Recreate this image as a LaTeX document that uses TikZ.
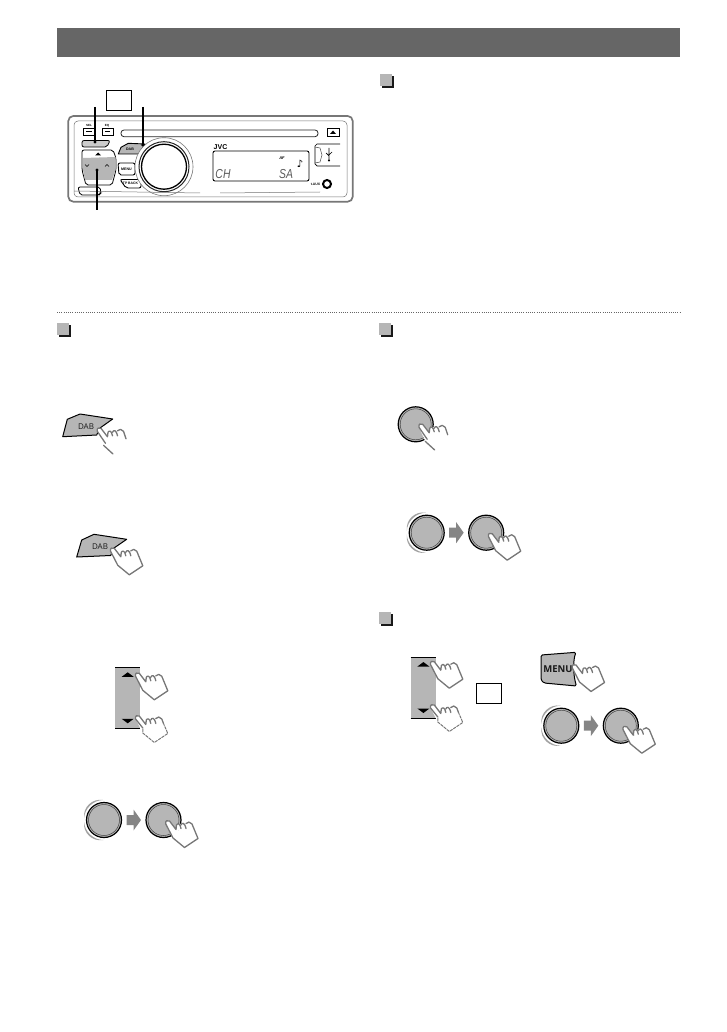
\documentclass[tikz,border=0pt]{standalone}
\usepackage{fontspec}
\setmainfont{Liberation Sans}
\newfontfamily\symfont{DejaVu Sans}
\newfontfamily\btnfont{Open Sans}
\definecolor{btn}{HTML}{B6B6B6}
\definecolor{band}{HTML}{666666}
\definecolor{hnd}{HTML}{777777}
\definecolor{arw}{HTML}{858585}
\tikzset{
 handline/.style={draw=hnd,line width=1.3pt,line join=round,line cap=round},
 framebox/.style={draw=black,line width=.8pt,fill=white,inner sep=0pt,minimum width=25pt,minimum height=20pt},
 leader/.style={line width=1.6pt,black},
 dab/.style={draw=black,line width=1pt,fill=btn,line join=round},
 bullet/.pic={\fill[black!90] (2,2) rectangle (14,14);\fill[btn] (0,0) rectangle (12,12);},
 fullhand/.pic={
  \path[fill=white] (4.5,17) -- (-2.7,3) .. controls (-3.6,0) and (-1,-1.5) .. (1,0) -- (7.5,8.5) -- (29.5,17.5) -- (16,26.5) -- cycle;
  \path[fill=white] (7.5,8.5) -- (8,3.5) -- (22,1) -- (29.5,17.5) -- cycle;
  \draw[handline] (4.5,17) -- (-2.7,3) .. controls (-3.6,0) and (-1,-1.5) .. (1,0) -- (7.5,8.5) (7.5,8.5) -- (8,4) .. controls (9,2) and (11.5,2) .. (12.5,7.5) (12.5,4) .. controls (13.5,1.5) and (16,1) .. (17.5,7.5) (17.5,2.5) .. controls (19,.5) and (22,.5) .. (23.5,3) -- (29.5,17.5) -- (16,26.5) -- (4.5,17);
 },
 parthand/.pic={
  \path[fill=white] (3.5,16.7) -- (-2.7,3) .. controls (-3.6,0) and (-1,-1.5) .. (1,0) -- (7.5,8.5) -- (8,3.5) -- (22,1) -- (26,11) -- (13,26) -- cycle;
  \draw[handline] (13,25.7) -- (3.5,17) (5.5,15) -- (-2.7,3) .. controls (-3.6,0) and (-1,-1.5) .. (1,0) -- (7.5,8.5) (7.5,8.5) -- (8,4) .. controls (9,2) and (11.5,2) .. (12.5,7.5) (12.5,4) .. controls (13.5,1.5) and (16,1) .. (17.5,7.5) (17.5,2.5) .. controls (19,.5) and (22,.5) .. (23.5,3) -- (26,10.5);
 },
 dashhand/.pic={
  \path[fill=white] (4.5,17) -- (-2.7,3) .. controls (-3.6,0) and (-1,-1.5) .. (1,0) -- (7.5,8.5) -- (8,3.5) -- (22,1) -- (29.5,17.5) -- (16,26.5) -- cycle;
  \draw[handline] (4.5,12) -- (-2.7,3) .. controls (-3.6,0) and (-1,-1.5) .. (1,0) -- (7.5,8.5) (7.5,8.5) -- (8,4) .. controls (9,2) and (11.5,2) .. (12.5,7.5) (12.5,4) .. controls (13.5,1.5) and (16,1) .. (17.5,7.5) (17.5,2.5) .. controls (19,.5) and (22,.5) .. (23.5,3) -- (25,7);
  \draw[handline,line width=1pt,dash pattern=on 2.6pt off 1.4pt] (25,7) -- (29.5,17.5) -- (16,26.5) -- (4.5,17) -- (4.5,12);
 },
 knob/.pic={
  \fill[btn] (0,0) circle[radius=17.5];
  \draw[black,line width=1.2pt] (0,0) circle[radius=17.5];
  \draw[black!75,line width=.5pt] (0,0) circle[radius=15.5];
 },
 turn/.pic={
  \pic at (0,0) {knob};
  \fill[arw!75] (92:20) .. controls (118:24.9) and (149:24.9) .. (175:20) .. controls (149:22.6) and (118:22.6) .. cycle;
  \fill[arw!75] (185:20) .. controls (211:24.9) and (242:24.9) .. (268:20) .. controls (242:22.6) and (211:22.6) .. cycle;
 },
 push/.pic={
  \fill[arw] (22.5,-5) -- (29.5,-5) -- (29.5,-10.5) -- (37,0) -- (29.5,10.5) -- (29.5,5) -- (22.5,5) -- cycle;
  \pic at (59.5,0) {knob};
  \pic at (64.5,1) {fullhand};
 },
 updown/.pic={
  \fill[btn] (0,0) rectangle (25,61.5);
  \draw[black,line width=.9pt] (0,0) -- (25,0) (0,61.5) -- (25,61.5);
  \fill[black] (6.7,9.5) -- (12.7,5) -- (18.7,9.5) -- cycle;
  \fill[black] (6.7,51.5) -- (12.7,56) -- (18.7,51.5) -- cycle;
 }
}
\begin{document}
\begin{tikzpicture}[x=1pt,y=-1pt]
\useasboundingbox (0,0) rectangle (726,1032);
% header
\node[fill=band,inner sep=0pt,minimum width=623pt,minimum height=29pt,anchor=north west] (header) at (57,28) {};
% separator
\draw[band,line width=.9pt,dash pattern=on .9pt off 1.3pt] (57,312) -- (680,312);
% bullets
\pic at (379.5,74) {bullet};
\pic at (57,323) {bullet};
\pic at (379,323) {bullet};
\pic at (379,611.5) {bullet};

% ---------- device ----------
\draw[hnd,line width=1.7pt,rounded corners=5pt] (68.3,116) rectangle (352.7,201.7);
\draw[black!55,line width=.5pt,rounded corners=4pt] (74,121) rectangle (347,197);
\draw[black!85,line width=.8pt,rounded corners=3pt] (121,130) rectangle (318,136.7);
\draw[black,line width=.7pt] (327,128) rectangle (339,136);
\fill[black] (330,134) -- (333,130.5) -- (336,134) -- cycle;
\draw[black,line width=.7pt,fill=white] (83,128) rectangle (95,135);
\draw[black,line width=.7pt,fill=white] (102,128) rectangle (113,135);
\draw[black,line width=.7pt] (86,131.5) -- (92,131.5) (105,131.5) -- (110,131.5);
\node[font=\fontsize{3}{3}\selectfont\bfseries,inner sep=0] (lbsel) at (89,125.5) {SEL};
\node[font=\fontsize{3}{3}\selectfont\bfseries,inner sep=0] (lbeq) at (107,125.5) {EQ};
% left panel
\draw[black,line width=.8pt,fill=btn!70,rounded corners=2pt] (82,140.5) -- (110,140.5) -- (107,147) -- (82,147) -- cycle;
\draw[black,line width=.8pt,fill=white,rounded corners=2pt] (82,150) -- (113,150) -- (116,158) -- (116,170) -- (112,185) -- (86,185) -- (82,170) -- cycle;
\fill[btn] (83,158) -- (115.5,157) -- (115.5,170) -- (112,180) -- (85,180) -- (83,170) -- cycle;
\fill[black] (95,155.5) -- (98,152.5) -- (101,155.5) -- cycle;
\draw[black,line width=.5pt] (85,164.5) -- (87,166.5) -- (89,164.5) (105,166.5) -- (107,164.5) -- (109,166.5);
\draw[black,line width=.8pt,fill=white,rounded corners=2pt] (78,187) -- (100,187) -- (101,193) -- (99,195) -- (80,195) -- cycle;
% right buttons
\draw[dab,line width=.9pt] (118.3,154) -- (121,147.3) -- (128.3,143.3) -- (145,144) -- (139.3,154) -- cycle;
\node[font=\fontsize{3.6}{4}\selectfont\bfseries,inner sep=0] (ldab) at (130,149.5) {DAB};
\draw[black,line width=.9pt,fill=white,rounded corners=2pt] (118,163) -- (135,163) -- (135,175) -- (119,175) -- cycle;
\node[font=\fontsize{3.6}{4}\selectfont\bfseries,inner sep=0] (lmenu) at (126.5,169) {MENU};
\draw[black,line width=.9pt,fill=white,rounded corners=2pt] (120,179.5) -- (141,179.5) -- (141,188) -- (126,188) -- cycle;
\node[font=\fontsize{3.4}{4}\selectfont\bfseries,inner sep=0] (ltp) at (130.5,183.5) {TP BACK};
% main knob
\draw[hnd,line width=.6pt,fill=white] (164,166.7) circle[radius=29];
\draw[black!85,line width=1pt] (164,166.7) circle[radius=25];
\draw[black,line width=1.3pt,fill=white] (164,166.7) circle[radius=22.5];
% display
\node[font=\fontsize{7}{8}\selectfont\bfseries,inner sep=0] (jvc) at (220.5,147) {JVC};
\draw[black,line width=.9pt,rounded corners=2pt] (213,151) rectangle (309,181);
\node[font=\fontsize{4}{5}\selectfont\bfseries\itshape,inner sep=0] (af) at (282,158) {AF};
\node[font=\fontsize{10}{10}\selectfont\symfont,inner sep=0] (note) at (300,164) {♪};
\node[font=\fontsize{13}{13}\selectfont\itshape,text=black!65,inner sep=0] (ch) at (223,174.5) {\scalebox{.8}[1]{CH}};
\node[font=\fontsize{13}{13}\selectfont\itshape,text=black!65,inner sep=0] (sa) at (286,174.5) {\scalebox{.8}[1]{SA}};
% usb
\draw[black,line width=.7pt] (340,144) -- (317,144) -- (315,146) -- (315,164) -- (317,166) -- (340,166);
\draw[black!70,line width=.5pt] (315,147) -- (320,148) -- (322,155) -- (320,162) -- (315,163);
\draw[black,line width=.7pt] (329,148) -- (329,160) (329,156) -- (326,153) (329,155) -- (332,152);
\fill[black] (329,160.5) circle[radius=1.1];
% aux
\node[font=\fontsize{3.4}{4}\selectfont\bfseries,inner sep=0] (lbaux) at (315.5,184) {t.AUX};
\draw[black,line width=2pt,fill=white] (327,184) circle[radius=4];
\draw[black!55,line width=.5pt] (74,191) -- (200,193) (220,193) -- (320,192);
% leaders
\node[framebox] (topbox) at (118.8,100.6) {};
\coordinate (l1a) at (95,107);
\fill[black] (95,142) circle[radius=1.6] coordinate (l1b);
\draw[leader] (l1a) -- (l1b);
\coordinate (l2a) at (142.7,107);
\fill[black] (142.7,145) circle[radius=1.6] coordinate (l2b);
\draw[leader] (l2a) -- (l2b);
\coordinate (l3a) at (97,210);
\fill[black] (97,170) circle[radius=1.6] coordinate (l3b);
\draw[leader] (l3a) -- (l3b);

% ---------- DAB buttons ----------
\draw[dab] (62.7,436.7) -- (67.3,419.3) -- (80,414) -- (112.7,419) -- (100,428) -- (96.7,435) -- cycle;
\node[font=\fontsize{8}{9}\selectfont\btnfont,text=black!90,inner sep=0] (dab1) at (86,427) {DAB};
\pic at (100,428.3) {parthand};
\draw[dab] (76.7,557) -- (81.7,540) -- (94,534.3) -- (126.7,539.3) -- (114,548) -- (110.7,555.5) -- cycle;
\node[font=\fontsize{8}{9}\selectfont\btnfont,text=black!90,inner sep=0] (dab2) at (100,547) {DAB};
\pic at (113.3,548.3) {fullhand};

% ---------- left up/down ----------
\pic at (115,667.3) {updown};
\pic at (138.3,673.3) {fullhand};
\pic at (138.3,716) {dashhand};
% ---------- left knobs ----------
\pic at (104,820) {turn};
\pic at (104,820) {push};

% ---------- right single knob ----------
\pic at (415.7,424.3) {knob};
\pic at (421.7,424.3) {parthand};
% ---------- right knobs ----------
\pic at (426.7,532.7) {turn};
\pic at (426.7,532.7) {push};

% ---------- right up/down ----------
\pic at (410.7,657) {updown};
\pic at (433.3,661.7) {fullhand};
\pic at (433.3,705) {dashhand};
\node[framebox] (midbox) at (489,693.3) {};
% menu
\draw[dab,rounded corners=1.5pt] (541,655) -- (576,652.3) .. controls (573,660) and (573,675) .. (576.5,686) -- (544,683) -- (541,680) -- cycle;
\node[font=\fontsize{9.5}{10}\selectfont\btnfont\bfseries,text=black!90,inner sep=0] (menu) at (558,669.5) {MENU};
\pic at (575,665) {fullhand};
% lower knobs
\pic at (561.3,725.7) {turn};
\pic at (561.3,725.7) {push};
\end{tikzpicture}
\end{document}
